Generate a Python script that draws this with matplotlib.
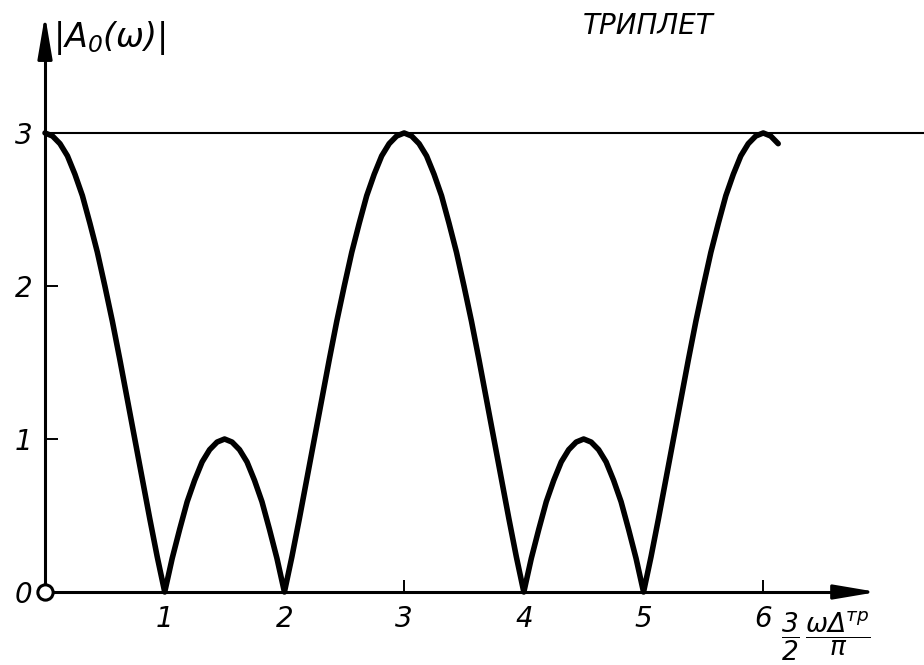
import numpy as np
import matplotlib
matplotlib.use("Agg")
import matplotlib.pyplot as plt

# |A0(w)| for the triplet, read every 1/16 along the (3/2)(w*Delta/pi) axis
x_vals = np.arange(0, 6.126, 0.0625)
amp_period = [3.00, 2.98, 2.93, 2.85, 2.73, 2.59, 2.41, 2.22,
              2.00, 1.77, 1.52, 1.26, 1.00, 0.74, 0.48, 0.23,
              0.00, 0.22, 0.41, 0.59, 0.73, 0.85, 0.93, 0.98,
              1.00, 0.98, 0.93, 0.85, 0.73, 0.59, 0.41, 0.22,
              0.00, 0.23, 0.48, 0.74, 1.00, 1.26, 1.52, 1.77,
              2.00, 2.22, 2.41, 2.59, 2.73, 2.85, 2.93, 2.98]
amp_vals = amp_period + amp_period + [3.00, 2.98, 2.93]

x_ticks = [1, 2, 3, 4, 5, 6]
y_ticks = [0, 1, 2, 3]
x_end = 6.95
y_end = 3.77

plt.rcParams['font.family'] = ['DejaVu Sans']
plt.rcParams['font.style'] = 'italic'
plt.rcParams['mathtext.fontset'] = 'dejavusans'

fig = plt.figure(figsize=(9.24, 6.65), dpi=100)
ax = fig.add_axes([0, 0, 1, 1])
ax.set_xlim(-0.376, 7.343)
ax.set_ylim(-0.477, 3.869)

# axes through the origin
for side in ['top', 'right']:
    ax.spines[side].set_visible(False)
ax.spines['left'].set_position(('data', 0))
ax.spines['bottom'].set_position(('data', 0))
ax.spines['left'].set_bounds(0, y_end - 0.1)
ax.spines['bottom'].set_bounds(0, x_end - 0.15)
ax.spines['left'].set_linewidth(2.2)
ax.spines['bottom'].set_linewidth(2.2)

ax.set_xticks(x_ticks)
ax.set_yticks(y_ticks)
ax.tick_params(direction='in', length=9, width=1.4, labelsize=20, pad=9)

# arrow heads
arrow = dict(arrowstyle='-|>,head_length=1.3,head_width=0.22', color='black',
             lw=2.2, mutation_scale=20, shrinkA=0, shrinkB=0)
ax.annotate('', xy=(x_end, 0), xytext=(x_end - 0.3, 0), arrowprops=arrow)
ax.annotate('', xy=(0, y_end), xytext=(0, y_end - 0.25), arrowprops=arrow)

# level line at the maximum
ax.hlines(3, 0, 7.343, color='black', lw=1.5)

ax.plot(x_vals, amp_vals, color='black', lw=4, solid_capstyle='round',
        solid_joinstyle='round', zorder=3)

ax.plot(0, 0, 'o', ms=11, mfc='white', mec='black', mew=2.2, zorder=5, clip_on=False)

ax.text(0.07, 3.56, r'$|A_0(\omega)|$', fontsize=24, ha='left', va='baseline')
ax.text(4.49, 3.70, 'ТРИПЛЕТ', fontsize=20, ha='left', va='center')
ax.text(6.15, -0.29, r'$\dfrac{3}{2}\,\dfrac{\omega\Delta^{тр}}{\pi}$', fontsize=19,
        ha='left', va='center')

fig.savefig('out.png', dpi=100)
